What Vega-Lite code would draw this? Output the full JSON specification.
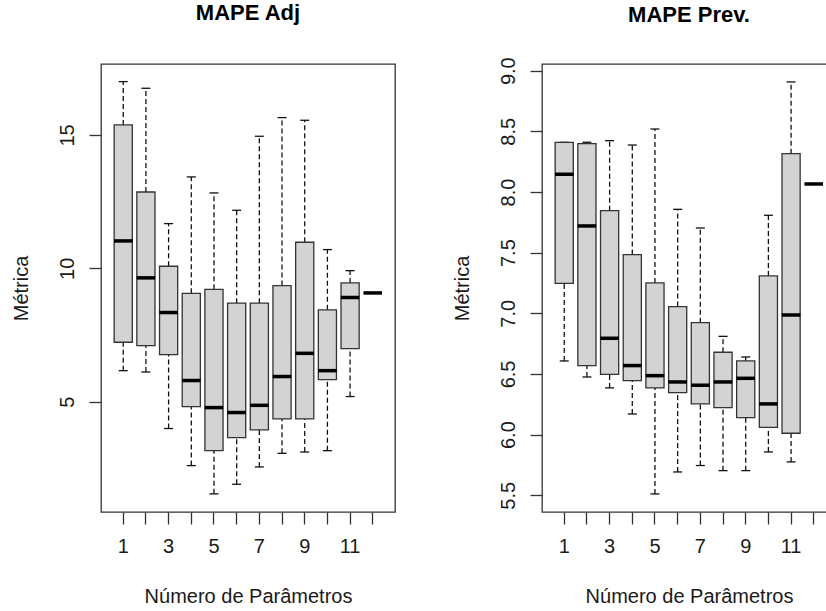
{
  "$schema": "https://vega.github.io/schema/vega-lite/v6.json",
  "padding": {"left": 10, "top": 1, "right": 0, "bottom": 0},
  "background": "white",
  "config": {
    "font": "Liberation Sans",
    "view": {"stroke": "#333333", "strokeWidth": 1.3},
    "concat": {"spacing": 147},
    "axis": {"grid": false, "domain": false, "tickSize": 12, "tickColor": "#333333", "tickWidth": 1.3,
             "labelFont": "Liberation Sans", "labelFontSize": 20, "labelColor": "#1a1a1a",
             "titleFont": "Liberation Sans", "titleFontSize": 20, "titleFontWeight": "normal", "titleColor": "#1a1a1a"},
    "title": {"font": "Liberation Sans", "fontSize": 22, "fontWeight": "bold", "color": "#000000", "anchor": "middle", "baseline": "alphabetic", "offset": 39, "frame": "group"},
    "tick": {"opacity": 1},
    "rule": {"opacity": 1},
    "bar": {"opacity": 1}
  },
  "bounds": "flush",
  "datasets": {
    "adj": [
      {"k": 1, "lo": 6.16, "q1": 7.225, "med": 11.025, "q3": 15.375, "hi": 17.0},
      {"k": 2, "lo": 6.11, "q1": 7.1, "med": 9.64, "q3": 12.86, "hi": 16.75},
      {"k": 3, "lo": 3.99, "q1": 6.76, "med": 8.34, "q3": 10.075, "hi": 11.675},
      {"k": 4, "lo": 2.6, "q1": 4.81, "med": 5.79, "q3": 9.06, "hi": 13.425},
      {"k": 5, "lo": 1.54, "q1": 3.16, "med": 4.775, "q3": 9.21, "hi": 12.825},
      {"k": 6, "lo": 1.9, "q1": 3.65, "med": 4.59, "q3": 8.69, "hi": 12.175},
      {"k": 7, "lo": 2.55, "q1": 3.94, "med": 4.86, "q3": 8.69, "hi": 14.95},
      {"k": 8, "lo": 3.06, "q1": 4.35, "med": 5.94, "q3": 9.35, "hi": 15.65},
      {"k": 9, "lo": 3.11, "q1": 4.35, "med": 6.81, "q3": 10.975, "hi": 15.55},
      {"k": 10, "lo": 3.16, "q1": 5.825, "med": 6.16, "q3": 8.44, "hi": 10.7},
      {"k": 11, "lo": 5.19, "q1": 6.99, "med": 8.9, "q3": 9.45, "hi": 9.91},
      {"k": 12, "lo": 9.075, "q1": 9.075, "med": 9.075, "q3": 9.075, "hi": 9.075}
    ],
    "prev": [
      {"k": 1, "lo": 6.607, "q1": 7.247, "med": 8.146, "q3": 8.409, "hi": 8.409},
      {"k": 2, "lo": 6.475, "q1": 6.569, "med": 7.72, "q3": 8.398, "hi": 8.41},
      {"k": 3, "lo": 6.385, "q1": 6.497, "med": 6.794, "q3": 7.846, "hi": 8.423},
      {"k": 4, "lo": 6.17, "q1": 6.445, "med": 6.569, "q3": 7.484, "hi": 8.387},
      {"k": 5, "lo": 5.511, "q1": 6.385, "med": 6.486, "q3": 7.25, "hi": 8.519},
      {"k": 6, "lo": 5.692, "q1": 6.346, "med": 6.434, "q3": 7.055, "hi": 7.857},
      {"k": 7, "lo": 5.745, "q1": 6.253, "med": 6.407, "q3": 6.923, "hi": 7.703},
      {"k": 8, "lo": 5.703, "q1": 6.223, "med": 6.434, "q3": 6.679, "hi": 6.81},
      {"k": 9, "lo": 5.703, "q1": 6.14, "med": 6.464, "q3": 6.607, "hi": 6.64},
      {"k": 10, "lo": 5.857, "q1": 6.06, "med": 6.253, "q3": 7.308, "hi": 7.808},
      {"k": 11, "lo": 5.775, "q1": 6.011, "med": 6.986, "q3": 8.316, "hi": 8.907},
      {"k": 12, "lo": 8.066, "q1": 8.066, "med": 8.066, "q3": 8.066, "hi": 8.066}
    ]
  },
  "hconcat": [
    {
      "title": {"text": "MAPE Adj", "offset": 39},
      "width": 294,
      "height": 448,
      "data": {"name": "adj"},
      "encoding": {
        "x": {"field": "k", "type": "ordinal", "sort": "ascending",
              "scale": {"type": "band", "domain": [1,2,3,4,5,6,7,8,9,10,11,12], "paddingInner": 0.2, "paddingOuter": 0.58},
              "axis": {"title": "Número de Parâmetros", "labelAngle": 0, "labelPadding": 12.5, "labelBaseline": "top",
                       "labelExpr": "datum.value % 2 == 1 ? datum.label : ''",
                       "titleY": 74.5, "titleBaseline": "top"}}
      },
      "layer": [
        {"mark": {"type": "rule", "color": "#111111", "strokeWidth": 1.3, "strokeDash": [5, 3]},
         "encoding": {"y": {"field": "lo", "type": "quantitative",
                             "scale": {"domain": [0.86, 17.66], "nice": false, "zero": false},
                             "axis": {"title": "Métrica", "values": [5, 10, 15], "labelAngle": 270, "labelAlign": "center", "labelBaseline": "alphabetic", "labelPadding": 16,
                                      "titleAngle": 270, "titleAlign": "center", "titleBaseline": "alphabetic", "titleX": -74, "titleY": 224}},
                      "y2": {"field": "q1"}}},
        {"mark": {"type": "rule", "color": "#111111", "strokeWidth": 1.3, "strokeDash": [5, 3]},
         "encoding": {"y": {"field": "q3", "type": "quantitative"}, "y2": {"field": "hi"}}},
        {"mark": {"type": "tick", "orient": "horizontal", "color": "#111111", "size": 9, "thickness": 1.3},
         "encoding": {"y": {"field": "lo", "type": "quantitative"}}},
        {"mark": {"type": "tick", "orient": "horizontal", "color": "#111111", "size": 9, "thickness": 1.3},
         "encoding": {"y": {"field": "hi", "type": "quantitative"}}},
        {"mark": {"type": "bar", "fill": "#D3D3D3", "stroke": "#333333", "strokeWidth": 1.3},
         "encoding": {"y": {"field": "q1", "type": "quantitative"}, "y2": {"field": "q3"}}},
        {"mark": {"type": "tick", "orient": "horizontal", "color": "#000000", "size": 18.5, "thickness": 3.5},
         "encoding": {"y": {"field": "med", "type": "quantitative"}}}
      ]
    },
    {
      "title": {"text": "MAPE Prev.", "offset": 30},
      "width": 294,
      "height": 448,
      "data": {"name": "prev"},
      "encoding": {
        "x": {"field": "k", "type": "ordinal", "sort": "ascending",
              "scale": {"type": "band", "domain": [1,2,3,4,5,6,7,8,9,10,11,12], "paddingInner": 0.2, "paddingOuter": 0.58},
              "axis": {"title": "Número de Parâmetros", "labelAngle": 0, "labelPadding": 12.5, "labelBaseline": "top",
                       "labelExpr": "datum.value % 2 == 1 ? datum.label : ''",
                       "titleY": 74.5, "titleBaseline": "top"}}
      },
      "layer": [
        {"mark": {"type": "rule", "color": "#111111", "strokeWidth": 1.3, "strokeDash": [5, 3]},
         "encoding": {"y": {"field": "lo", "type": "quantitative",
                             "scale": {"domain": [5.362, 9.055], "nice": false, "zero": false},
                             "axis": {"title": "Métrica", "values": [5.5, 6, 6.5, 7, 7.5, 8, 8.5, 9], "format": ".1f", "labelAngle": 270, "labelAlign": "center", "labelBaseline": "alphabetic", "labelPadding": 16,
                                      "titleAngle": 270, "titleAlign": "center", "titleBaseline": "alphabetic", "titleX": -74, "titleY": 224}},
                      "y2": {"field": "q1"}}},
        {"mark": {"type": "rule", "color": "#111111", "strokeWidth": 1.3, "strokeDash": [5, 3]},
         "encoding": {"y": {"field": "q3", "type": "quantitative"}, "y2": {"field": "hi"}}},
        {"mark": {"type": "tick", "orient": "horizontal", "color": "#111111", "size": 9, "thickness": 1.3},
         "encoding": {"y": {"field": "lo", "type": "quantitative"}}},
        {"mark": {"type": "tick", "orient": "horizontal", "color": "#111111", "size": 9, "thickness": 1.3},
         "encoding": {"y": {"field": "hi", "type": "quantitative"}}},
        {"mark": {"type": "bar", "fill": "#D3D3D3", "stroke": "#333333", "strokeWidth": 1.3},
         "encoding": {"y": {"field": "q1", "type": "quantitative"}, "y2": {"field": "q3"}}},
        {"mark": {"type": "tick", "orient": "horizontal", "color": "#000000", "size": 18.5, "thickness": 3.5},
         "encoding": {"y": {"field": "med", "type": "quantitative"}}}
      ]
    }
  ]
}
